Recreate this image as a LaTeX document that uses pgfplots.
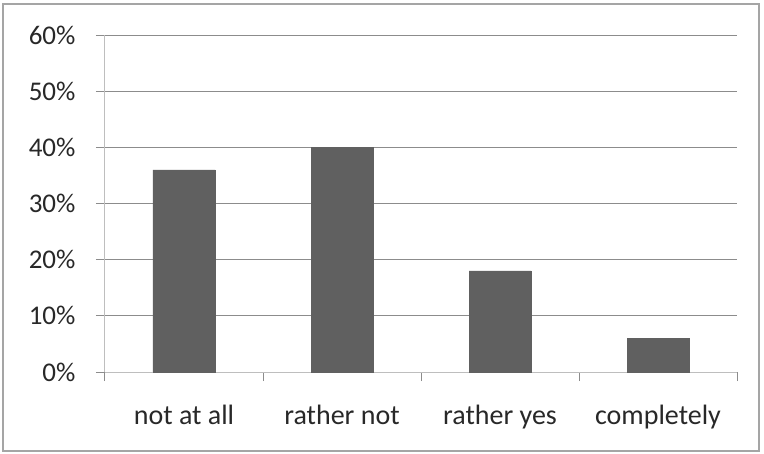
\documentclass[border=0pt]{standalone}
\usepackage{pgfplots}
\pgfplotsset{compat=1.18}
\usepackage{fontspec}
\setmainfont{Carlito}
\definecolor{barc}{RGB}{96,96,96}
\definecolor{gridc}{RGB}{140,140,140}
\definecolor{axc}{RGB}{190,190,190}
\definecolor{framec}{RGB}{165,165,165}
\definecolor{txt}{RGB}{40,40,40}
\begin{document}
\begin{tikzpicture}
\useasboundingbox (-105bp,-82bp) rectangle (659bp,372bp);
\draw[framec, line width=1.5bp] (-102bp,-79bp) rectangle (654bp,368bp);
\begin{axis}[
  at={(0,0)}, anchor=south west,
  scale only axis, width=632bp, height=337bp,
  xmin=-0.5, xmax=3.5, ymin=0, ymax=60,
  axis lines*=left,
  axis line style={axc, line width=1bp},
  ytick={0,10,...,60},
  yticklabel={\pgfmathprintnumber{\tick}\%},
  /pgf/number format/assume math mode=true,
  ymajorgrids, major grid style={gridc, line width=1bp},
  xtick={-0.5,0.5,1.5,2.5,3.5},
  xticklabels={},
  extra x ticks={0,1,2,3},
  extra x tick labels={not at all, rather not, rather yes, completely},
  extra x tick style={major tick length=0pt, xmajorgrids=false},
  tick align=outside,
  major tick length=9bp,
  tick style={gridc, line width=1bp},
  tick label style={font=\fontsize{27bp}{30bp}\selectfont, text=txt},
  yticklabel style={xshift=-17bp},
  xticklabel style={yshift=-30bp, font=\fontsize{28bp}{30bp}\selectfont},
  ybar, bar width=62bp,
  clip=false,
]
\addplot[fill=barc, draw=barc] coordinates {(0,36) (1,40) (2,18) (3,6)};
\end{axis}
\end{tikzpicture}
\end{document}
